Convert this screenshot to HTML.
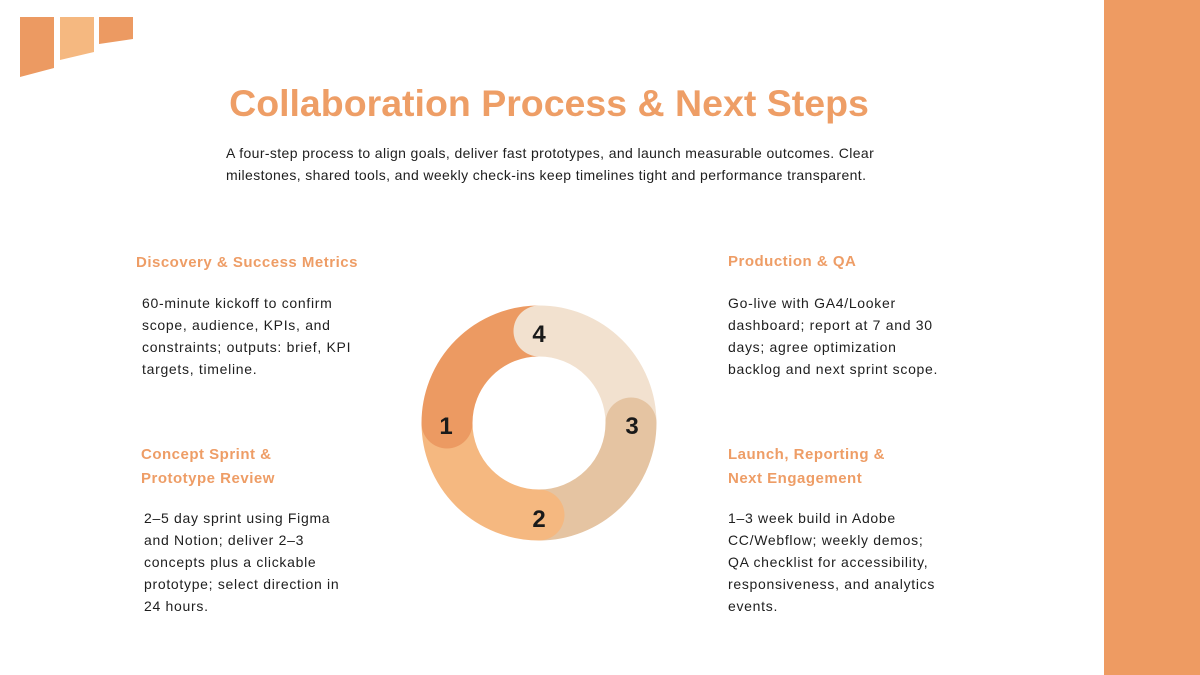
<!DOCTYPE html>
<html><head><meta charset="utf-8"><style>
*{margin:0;padding:0;box-sizing:border-box}
body{width:1200px;height:675px;position:relative;background:#fff;font-family:"Liberation Sans",sans-serif;overflow:hidden}
.a{position:absolute;white-space:nowrap}
.h{color:#EE9D66;font-weight:bold;font-size:15px;line-height:24px;letter-spacing:0.5px}
.b{color:#1e1e1e;font-size:14px;line-height:22px;letter-spacing:0.7px}
</style></head><body>
<div class="a" style="left:1104px;top:0;width:96px;height:675px;background:#EE9B62"></div>
<svg class="a" style="left:0;top:0" width="150" height="90">
<polygon points="20,17 54,17 54,68 20,77" fill="#EC9A62"/>
<polygon points="60,17 94,17 94,52 60,60" fill="#F5B880"/>
<polygon points="99,17 133,17 133,39 99,44" fill="#EC9A62"/>
</svg>
<div class="a" style="left:0;width:1098px;top:80px;text-align:center;font-size:37.5px;font-weight:bold;color:#EE9E66;line-height:46px">Collaboration Process &amp; Next Steps</div>
<div class="a b" style="left:226px;top:142px;letter-spacing:0.38px">A four-step process to align goals, deliver fast prototypes, and launch measurable outcomes. Clear<br>milestones, shared tools, and weekly check-ins keep timelines tight and performance transparent.</div>

<div class="a h" style="left:136px;top:251px">Discovery &amp; Success Metrics</div>
<div class="a b" style="left:142px;top:292px">60-minute kickoff to confirm<br>scope, audience, KPIs, and<br>constraints; outputs: brief, KPI<br>targets, timeline.</div>

<div class="a h" style="left:141px;top:443px">Concept Sprint &amp;<br>Prototype Review</div>
<div class="a b" style="left:144px;top:507px">2–5 day sprint using Figma<br>and Notion; deliver 2–3<br>concepts plus a clickable<br>prototype; select direction in<br>24 hours.</div>

<div class="a h" style="left:728px;top:250px">Production &amp; QA</div>
<div class="a b" style="left:728px;top:292px">Go-live with GA4/Looker<br>dashboard; report at 7 and 30<br>days; agree optimization<br>backlog and next sprint scope.</div>

<div class="a h" style="left:728px;top:443px">Launch, Reporting &amp;<br>Next Engagement</div>
<div class="a b" style="left:728px;top:507px">1–3 week build in Adobe<br>CC/Webflow; weekly demos;<br>QA checklist for accessibility,<br>responsiveness, and analytics<br>events.</div>

<svg class="a" style="left:0;top:0" width="1200" height="675">
<g fill="none" stroke-width="51">
<path d="M447,423 A92,92 0 0 1 539,331" stroke="#EC9A62"/>
<path d="M539,331 A92,92 0 0 1 631,423" stroke="#F2E1CF"/>
<path d="M631,423 A92,92 0 0 1 539,515" stroke="#E5C4A2"/>
<path d="M539,515 A92,92 0 0 1 447,423" stroke="#F5B880"/>
</g>
<path d="M447,423 m-25.5,0 a25.5,25.5 0 0 0 51,0 z" fill="#EC9A62"/>
<path d="M539,331 m0,-25.5 a25.5,25.5 0 0 0 0,51 z" fill="#F2E1CF"/>
<path d="M631,423 m-25.5,0 a25.5,25.5 0 0 1 51,0 z" fill="#E5C4A2"/>
<path d="M539,515 m0,-25.5 a25.5,25.5 0 0 1 0,51 z" fill="#F5B880"/>
<g font-family="Liberation Sans,sans-serif" font-size="24" font-weight="bold" fill="#1a1a1a" text-anchor="middle">
<text x="446" y="434">1</text>
<text x="539" y="342">4</text>
<text x="632" y="434">3</text>
<text x="539" y="527">2</text>
</g>
</svg>
</body></html>
